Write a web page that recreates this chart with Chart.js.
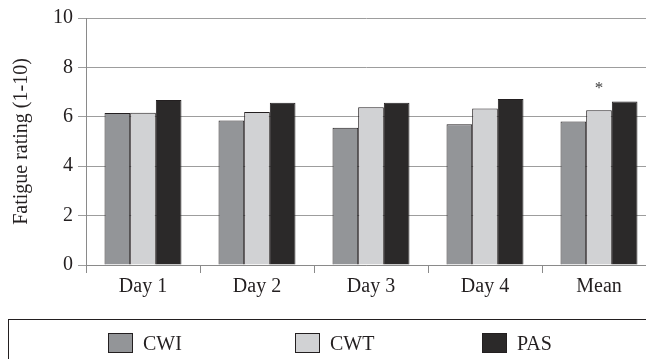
<!DOCTYPE html>
<html>
<head>
<meta charset="utf-8">
<script src="https://cdn.jsdelivr.net/npm/chart.js@4.4.0/dist/chart.umd.min.js"></script>
<style>
html, body { margin: 0; padding: 0; background: #fff; }
</style>
</head>
<body>
<canvas id="fatigueChart" width="646" height="359"></canvas>
<script>
const days = ['Day 1', 'Day 2', 'Day 3', 'Day 4', 'Mean'];
const cwiValues = [6.15, 5.85, 5.56, 5.70, 5.81];
const cwtValues = [6.16, 6.19, 6.39, 6.34, 6.27];
const pasValues = [6.68, 6.57, 6.57, 6.72, 6.62];
const seriesNames = ['CWI', 'CWT', 'PAS'];
const yTicks = [0, 2, 4, 6, 8, 10];
const starIndex = 4; // * over the CWT mean bar

const serif = "'Liberation Serif', 'DejaVu Serif', serif";
const ink = '#231f20';

// the figure is cropped on the right: let the category axis run past the canvas edge
const widenX = {
    id: 'widenX',
    afterLayout(chart) {
        const x = chart.scales.x;
        x.right = chart.width + 10;
        x.width = x.right - x.left;
        x.configure();
    }
};

// legend drawn in a box under the axis, like the figure
const boxedLegend = {
    id: 'boxedLegend',
    afterDraw(chart) {
        const ctx = chart.ctx;
        ctx.save();
        ctx.strokeStyle = ink;
        ctx.lineWidth = 1;
        ctx.strokeRect(8.5, 319.5, 700, 100);
        const starts = [108, 295, 482];
        chart.data.datasets.forEach((ds, i) => {
            const x = starts[i];
            ctx.fillStyle = ds.backgroundColor;
            ctx.fillRect(x, 333, 25, 20);
            ctx.strokeStyle = ink;
            ctx.strokeRect(x + 0.5, 333.5, 24, 19);
            ctx.fillStyle = ink;
            ctx.font = '20px ' + serif;
            ctx.textBaseline = 'alphabetic';
            ctx.fillText(ds.label, x + 35, 350);
        });
        ctx.restore();
    }
};

// significance mark
const starMark = {
    id: 'starMark',
    afterDatasetsDraw(chart) {
        const bar = chart.getDatasetMeta(1).data[starIndex];
        const ctx = chart.ctx;
        ctx.save();
        ctx.fillStyle = '#3a3a3a';
        ctx.font = '17px ' + serif;
        ctx.textAlign = 'center';
        ctx.textBaseline = 'alphabetic';
        ctx.fillText('*', bar.x, bar.y - 17);
        ctx.restore();
    }
};

const ctx = document.getElementById('fatigueChart').getContext('2d');

new Chart(ctx, {
    type: 'bar',
    data: {
        labels: days,
        datasets: [
            { label: seriesNames[0], data: cwiValues, backgroundColor: '#939598' },
            { label: seriesNames[1], data: cwtValues, backgroundColor: '#d1d2d4' },
            { label: seriesNames[2], data: pasValues, backgroundColor: '#2b2929' }
        ]
    },
    options: {
        responsive: false,
        animation: false,
        devicePixelRatio: 1,
        layout: { padding: { top: 18, right: 0, bottom: 58, left: 10 } },
        datasets: {
            bar: {
                borderColor: ink,
                borderWidth: 1,
                categoryPercentage: 0.675,
                barPercentage: 1
            }
        },
        plugins: {
            legend: { display: false },
            tooltip: { enabled: false }
        },
        scales: {
            x: {
                offset: true,
                grid: {
                    offset: true,
                    drawOnChartArea: false,
                    drawTicks: true,
                    tickLength: 8,
                    color: '#8a8a8a'
                },
                border: { color: '#8a8a8a' },
                ticks: {
                    color: ink,
                    font: { family: serif, size: 20 },
                    padding: 2,
                    maxRotation: 0
                }
            },
            y: {
                min: 0,
                max: 10,
                afterBuildTicks(axis) {
                    axis.ticks = yTicks.map(v => ({ value: v }));
                },
                grid: {
                    color: '#9d9d9d',
                    tickLength: 8
                },
                border: { color: '#8a8a8a' },
                ticks: {
                    color: ink,
                    font: { family: serif, size: 20 },
                    padding: 5
                },
                title: {
                    display: true,
                    text: 'Fatigue rating (1-10)',
                    color: ink,
                    font: { family: serif, size: 20 },
                    padding: { top: 0, bottom: 14 }
                }
            }
        }
    },
    plugins: [widenX, starMark, boxedLegend]
});
</script>
</body>
</html>
